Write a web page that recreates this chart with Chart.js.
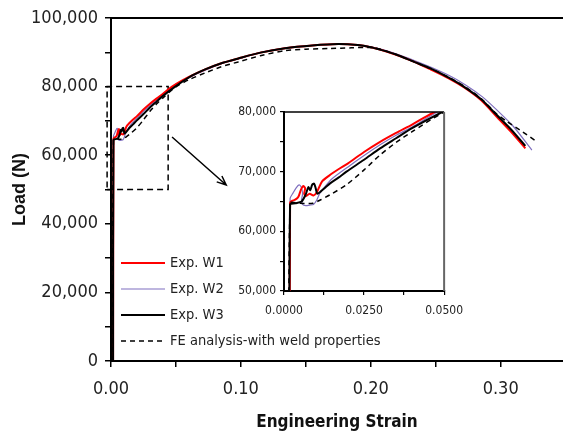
<!DOCTYPE html>
<html>
<head>
<meta charset="utf-8">
<script src="https://cdn.jsdelivr.net/npm/chart.js@4.4.1/dist/chart.umd.min.js"></script>
<style>
  html, body { margin: 0; padding: 0; background: #fff; }
  #wrap { position: relative; width: 563px; height: 437px; overflow: hidden; }
  #main { position: absolute; left: 0; top: 0; }
  #inset-box { position: absolute; left: 220px; top: 98px; width: 252px; height: 230px; }
</style>
</head>
<body>
<div id="wrap">
  <canvas id="main" width="563" height="437"></canvas>
  <div id="inset-box"><canvas id="inset" width="252" height="230"></canvas></div>
</div>
<script>
// Load vs engineering strain, three welded specimens + FE model

const W1_STRAIN = [0.0016, 0.0019, 0.0025, 0.0035, 0.0045, 0.0053, 0.0060, 0.0066, 0.0063, 0.0068, 0.0080, 0.0092, 0.0103, 0.0118, 0.0140, 0.0170, 0.0200, 0.0250, 0.0300, 0.0350, 0.0400, 0.0470, 0.0600, 0.0725, 0.0850, 0.0980, 0.1150, 0.1340, 0.1550, 0.1750, 0.1900, 0.2000, 0.2070, 0.2200, 0.2330, 0.2460, 0.2600, 0.2716, 0.2850, 0.2970, 0.3080, 0.3190];
const W1_LOAD   = [0, 64800, 65100, 65300, 65800, 67000, 67600, 67200, 66300, 65900, 66300, 66000, 66600, 68300, 69300, 70400, 71400, 73300, 75000, 76500, 77900, 80000, 82800, 85000, 86800, 88200, 89900, 91200, 92000, 92400, 92100, 91500, 90800, 89200, 87300, 85000, 82400, 79800, 76000, 71200, 66800, 62000];

const W2_STRAIN = [0.0016, 0.0019, 0.0028, 0.0038, 0.0047, 0.0054, 0.0058, 0.0055, 0.0058, 0.0068, 0.0080, 0.0092, 0.0102, 0.0112, 0.0125, 0.0150, 0.0200, 0.0250, 0.0300, 0.0350, 0.0400, 0.0480, 0.0600, 0.0725, 0.0850, 0.0980, 0.1150, 0.1340, 0.1550, 0.1750, 0.1900, 0.2000, 0.2070, 0.2200, 0.2330, 0.2460, 0.2600, 0.2730, 0.2860, 0.2970, 0.3100, 0.3240];
const W2_LOAD   = [0, 65500, 66400, 67300, 67800, 67400, 66300, 65300, 64500, 64300, 64400, 64500, 65200, 66400, 67300, 68800, 70800, 72700, 74500, 76100, 77500, 80000, 82600, 84800, 86700, 88100, 89900, 91200, 92000, 92400, 92200, 91600, 91000, 89500, 87700, 85700, 83300, 80500, 77000, 73200, 68300, 61500];

const W3_STRAIN = [0.0016, 0.0019, 0.0035, 0.0055, 0.0068, 0.0076, 0.0082, 0.0088, 0.0094, 0.0099, 0.0104, 0.0115, 0.0130, 0.0143, 0.0170, 0.0195, 0.0250, 0.0300, 0.0350, 0.0400, 0.0494, 0.0600, 0.0725, 0.0850, 0.0980, 0.1150, 0.1340, 0.1550, 0.1750, 0.1900, 0.2000, 0.2070, 0.2200, 0.2330, 0.2460, 0.2600, 0.2716, 0.2850, 0.2970, 0.3080, 0.3190];
const W3_LOAD   = [0, 64500, 64700, 65000, 66200, 67400, 66900, 67800, 68000, 67200, 66300, 66700, 67400, 68000, 69000, 70000, 72000, 73900, 75600, 77300, 80000, 82700, 85000, 86800, 88200, 89900, 91200, 92000, 92400, 92100, 91500, 90800, 89300, 87300, 85300, 82600, 80000, 76300, 71700, 67500, 62700];

const FE_STRAIN = [0.0016, 0.0019, 0.0050, 0.0090, 0.0115, 0.0143, 0.0195, 0.0250, 0.0300, 0.0350, 0.0400, 0.0494, 0.0600, 0.0725, 0.0850, 0.0980, 0.1150, 0.1340, 0.1500, 0.1690, 0.1850, 0.2000, 0.2070, 0.2200, 0.2330, 0.2460, 0.2600, 0.2716, 0.2850, 0.2970, 0.3050, 0.3170, 0.3280];
const FE_LOAD   = [0, 64700, 64700, 64700, 65300, 66100, 67800, 70300, 72800, 74900, 76700, 79800, 82000, 84000, 85800, 87200, 89000, 90500, 90900, 91100, 91300, 91400, 90900, 89300, 87300, 85300, 82700, 80200, 76500, 72000, 69800, 66800, 63900];

// dashed box marking the zoomed region
const BOX_STRAIN = [-0.003, 0.044, 0.044, -0.003, -0.003];
const BOX_LOAD   = [50000, 50000, 80000, 80000, 50000];

const LABELS = ['Exp. W1', 'Exp. W2', 'Exp. W3', 'FE analysis-with weld properties'];

// arrow from the box to the inset (strain, load)
const ARROW_FROM = [0.047, 65300];
const ARROW_TO = [0.0887, 51300];

const NARROW = "'Liberation Sans Narrow', 'DejaVu Sans Condensed', 'Roboto Condensed', sans-serif";
const INK = '#222';

const pts = (xs, ys) => xs.map((x, i) => ({ x: x, y: ys[i] }));

function seriesSets() {
  return [
    { label: LABELS[0], data: pts(W1_STRAIN, W1_LOAD), borderColor: '#ff0000', borderWidth: 2, order: 2 },
    { label: LABELS[1], data: pts(W2_STRAIN, W2_LOAD), borderColor: '#7f6fbf', borderWidth: 1.2, order: 3 },
    { label: LABELS[2], data: pts(W3_STRAIN, W3_LOAD), borderColor: '#000000', borderWidth: 2, order: 0 },
    { label: LABELS[3], data: pts(FE_STRAIN, FE_LOAD), borderColor: '#000000', borderWidth: 1.5, borderDash: [5, 4], order: 1 }
  ].map((d) => Object.assign(d, { pointRadius: 0, tension: 0.25, fill: false }));
}

const isMult = (v, step) => Math.abs(v / step - Math.round(v / step)) < 1e-6;

// top frame line + legend + arrow for the main chart
const mainDecor = {
  id: 'mainDecor',
  afterDatasetsDraw(chart) {
    const { ctx, chartArea: a, scales } = chart;
    ctx.save();
    ctx.strokeStyle = '#000';
    ctx.lineWidth = 2;
    ctx.beginPath();
    ctx.moveTo(a.left, a.top);
    ctx.lineTo(a.right, a.top);
    ctx.stroke();

    // arrow
    const x0 = scales.x.getPixelForValue(ARROW_FROM[0]), y0 = scales.y.getPixelForValue(ARROW_FROM[1]);
    const x1 = scales.x.getPixelForValue(ARROW_TO[0]), y1 = scales.y.getPixelForValue(ARROW_TO[1]);
    const ang = Math.atan2(y1 - y0, x1 - x0);
    ctx.lineWidth = 1.5;
    ctx.beginPath();
    ctx.moveTo(x0, y0);
    ctx.lineTo(x1, y1);
    ctx.moveTo(x1 - 10 * Math.cos(ang - 0.4), y1 - 10 * Math.sin(ang - 0.4));
    ctx.lineTo(x1, y1);
    ctx.lineTo(x1 - 10 * Math.cos(ang + 0.4), y1 - 10 * Math.sin(ang + 0.4));
    ctx.stroke();

    // legend
    ctx.font = '14.5px ' + NARROW;
    ctx.textBaseline = 'middle';
    ctx.fillStyle = INK;
    chart.data.datasets.slice(0, 4).forEach((ds, i) => {
      const y = a.bottom - 98 + i * 26;
      ctx.strokeStyle = ds.borderColor;
      ctx.lineWidth = ds.borderWidth;
      ctx.setLineDash(ds.borderDash || []);
      ctx.beginPath();
      ctx.moveTo(a.left + 10, y);
      ctx.lineTo(a.left + 54, y);
      ctx.stroke();
      ctx.setLineDash([]);
      ctx.fillText(ds.label, a.left + 59, y);
    });
    ctx.restore();
  }
};

const mainSets = seriesSets();
mainSets.push({ label: 'box', data: pts(BOX_STRAIN, BOX_LOAD), borderColor: '#000', borderWidth: 1.5,
  borderDash: [6, 4], pointRadius: 0, tension: 0, clip: false, order: 4 });

new Chart(document.getElementById('main'), {
  type: 'line',
  data: { datasets: mainSets },
  options: {
    responsive: false,
    animation: false,
    layout: { padding: { top: 18, right: 0, left: 0, bottom: 0 } },
    plugins: { legend: { display: false }, tooltip: { enabled: false } },
    scales: {
      x: {
        type: 'linear', min: 0, max: 0.348,
        afterFit: (s) => { s.height = 76; },
        border: { color: '#000', width: 2 },
        grid: { drawOnChartArea: false, drawTicks: true, tickLength: 6, color: '#000', lineWidth: 1.5 },
        ticks: {
          stepSize: 0.05, includeBounds: false, padding: 12, color: INK, maxRotation: 0, autoSkip: false,
          font: { family: NARROW, size: 18 },
          callback: (v) => isMult(v, 0.1) ? v.toFixed(2) : ''
        },
        title: { display: true, text: 'Engineering Strain', color: '#111',
          font: { family: NARROW, size: 17, weight: 'bold' }, padding: { bottom: 4, top: 0 } }
      },
      y: {
        min: 0, max: 100000,
        afterFit: (s) => { s.width = 111; },
        border: { color: '#000', width: 2 },
        grid: { drawOnChartArea: false, drawTicks: true, tickLength: 6, color: '#000', lineWidth: 1.5 },
        ticks: {
          stepSize: 10000, padding: 7, color: INK, autoSkip: false,
          font: { family: NARROW, size: 18 },
          callback: (v) => isMult(v, 20000) ? v.toLocaleString('en-US') : ''
        },
        title: { display: true, text: 'Load (N)', color: '#111',
          font: { family: "'Liberation Sans', Arial, sans-serif", size: 18, weight: 'bold' }, padding: { top: 9, bottom: 0 } }
      }
    }
  },
  plugins: [mainDecor]
});

// inset frame: top and right edges
const insetFrame = {
  id: 'insetFrame',
  afterDatasetsDraw(chart) {
    const { ctx, chartArea: a } = chart;
    ctx.save();
    ctx.lineWidth = 1.5;
    ctx.strokeStyle = '#000';
    ctx.beginPath();
    ctx.moveTo(a.left, a.top);
    ctx.lineTo(a.right, a.top);
    ctx.stroke();
    ctx.strokeStyle = '#666';
    ctx.lineWidth = 2;
    ctx.beginPath();
    ctx.moveTo(a.right, a.top);
    ctx.lineTo(a.right, a.bottom);
    ctx.stroke();
    ctx.restore();
  }
};

new Chart(document.getElementById('inset'), {
  type: 'line',
  data: { datasets: seriesSets() },
  options: {
    responsive: false,
    animation: false,
    layout: { padding: { top: 14, right: 0, left: 0, bottom: 0 } },
    plugins: { legend: { display: false }, tooltip: { enabled: false } },
    scales: {
      x: {
        type: 'linear', min: 0, max: 0.05,
        afterFit: (s) => { s.height = 37; },
        border: { color: '#000', width: 2 },
        grid: { drawOnChartArea: false, drawTicks: true, tickLength: 4, color: '#000', lineWidth: 1.2 },
        ticks: {
          stepSize: 0.0125, padding: 9, color: INK, maxRotation: 0, autoSkip: false,
          font: { family: NARROW, size: 12 },
          callback: (v) => isMult(v, 0.025) ? v.toFixed(4) : ''
        }
      },
      y: {
        min: 50000, max: 80000,
        afterFit: (s) => { s.width = 64; },
        border: { color: '#000', width: 2 },
        grid: { drawOnChartArea: false, drawTicks: true, tickLength: 4, color: '#000', lineWidth: 1.2 },
        ticks: {
          stepSize: 5000, padding: 4, color: INK, autoSkip: false,
          font: { family: NARROW, size: 12 },
          callback: (v) => isMult(v, 10000) ? v.toLocaleString('en-US') : ''
        }
      }
    }
  },
  plugins: [insetFrame]
});
</script>
</body>
</html>
